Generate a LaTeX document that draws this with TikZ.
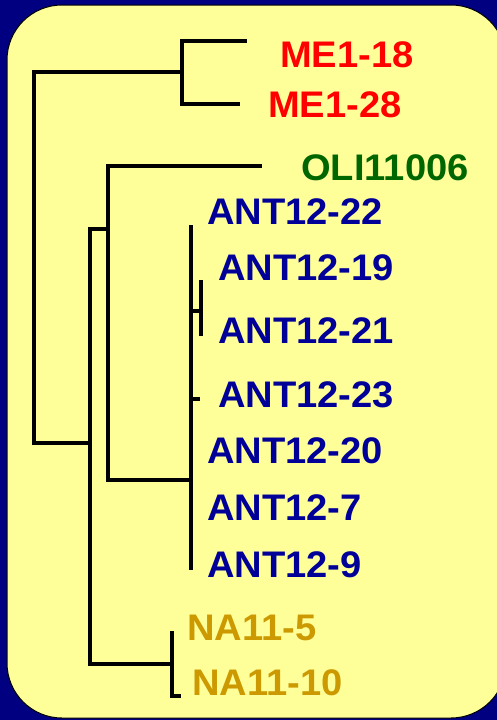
\documentclass[tikz,border=0pt]{standalone}
\usepackage{fontspec}
\setmainfont{Liberation Sans}
\usetikzlibrary{positioning}

\definecolor{navy}{RGB}{0,0,128}
\definecolor{paper}{RGB}{255,255,153}
\definecolor{meRed}{RGB}{255,0,0}
\definecolor{oliGreen}{RGB}{0,102,0}
\definecolor{antBlue}{RGB}{0,0,153}
\definecolor{naGold}{RGB}{204,153,0}

\begin{document}
\begin{tikzpicture}[
  x = 1pt, y = -1pt,
  branch/.style = {line width=3.3pt},
  leaf/.style = {anchor=west, inner sep=0pt, xscale=1.03, font=\fontsize{37}{40}\selectfont\bfseries}
]

\useasboundingbox (0,0) rectangle (497,720);
\clip (0,0) rectangle (497,720);
\fill[navy] (0,0) rectangle (497,720);
\draw[fill=paper, line width=1pt, rounded corners=55pt] (7,5) rectangle (506,718);

% inner nodes of the tree
\coordinate (root) at (34,257);
\coordinate (nME)  at (182,72);
\coordinate (nLow) at (90,443);
\coordinate (nAO)  at (108,229);
\coordinate (nANT) at (191,480);
\coordinate (nPair) at (201,311);
\coordinate (nNA)  at (172,664);

% branch tips
\coordinate (tME18) at (247,41);
\coordinate (tME28) at (240,104);
\coordinate (tOLI)  at (262,166);
\coordinate (tA22)  at (191,225);
\coordinate (tA9)   at (191,570);
\coordinate (tA19)  at (201,280);
\coordinate (tA21)  at (201,336);
\coordinate (bA23)  at (191,399);
\coordinate (tA23)  at (200,399);
\coordinate (tNA5)  at (174,633);
\coordinate (tNA10) at (181,696);

\draw[branch] (tME18) -| (nME) |- (tME28);
\draw[branch] (nME) -| (root) |- (nLow);
\draw[branch] (nAO) -| (nLow) |- (nNA);
\draw[branch] (tOLI) -| (nAO) |- (nANT);
\draw[branch] (tA22) -- (tA9);
\draw[branch] (tA19) -- (tA21);
\draw[branch] (nPair -| tA22) -- (nPair);
\draw[branch] (bA23) -- (tA23);
\draw[branch] (tNA5) -| (nNA) |- (tNA10);

% leaf labels
\node[leaf, text=meRed]    (ME18)  at (280,55)  {ME1-18};
\node[leaf, text=meRed]    (ME28)  at (268,105) {ME1-28};
\node[leaf, text=oliGreen] (OLI)   at (301,168) {OLI11006};
\node[leaf, text=antBlue]  (A22)   at (207,212) {ANT12-22};
\node[leaf, text=antBlue]  (A19)   at (218,268) {ANT12-19};
\node[leaf, text=antBlue]  (A21)   at (218,331) {ANT12-21};
\node[leaf, text=antBlue]  (A23)   at (218,395) {ANT12-23};
\node[leaf, text=antBlue]  (A20)   at (207,451) {ANT12-20};
\node[leaf, text=antBlue]  (A7)    at (207,508) {ANT12-7};
\node[leaf, text=antBlue]  (A9)    at (207,565) {ANT12-9};
\node[leaf, text=naGold]   (NA5)   at (187,628) {NA11-5};
\node[leaf, text=naGold]   (NA10)  at (192,683) {NA11-10};

\end{tikzpicture}
\end{document}
